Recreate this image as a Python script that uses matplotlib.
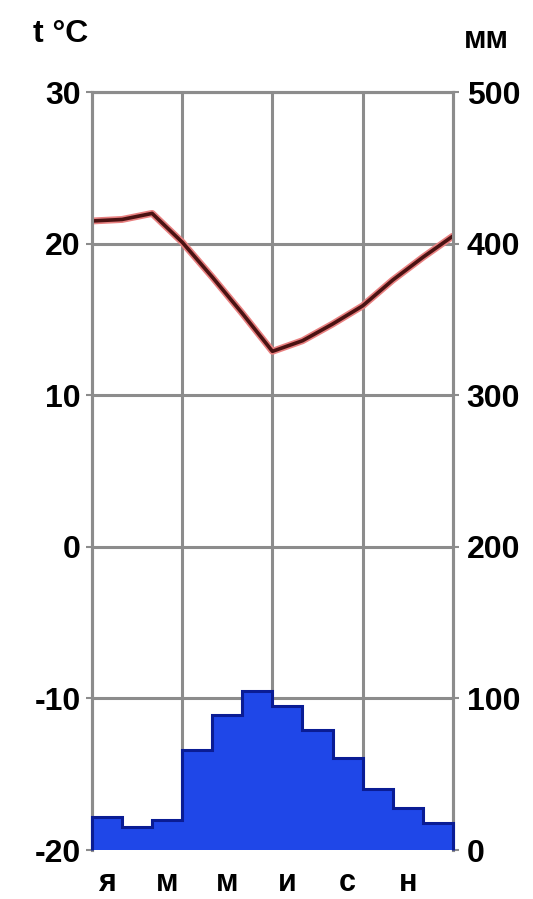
import numpy as np
import matplotlib
matplotlib.use('Agg')
import matplotlib.pyplot as plt

plt.rcParams['font.family'] = ['Liberation Sans', 'DejaVu Sans']

# осадки по месяцам, мм
precip = [22, 15, 20, 66, 89, 105, 95, 79, 61, 40, 28, 18]
# температура на границах месяцев, °C
temp = [21.5, 21.6, 22.0, 20.1, 17.8, 15.4, 12.9, 13.6, 14.7, 15.9, 17.6, 19.1, 20.5]
month_labels = ['я', 'м', 'м', 'и', 'с', 'н']
t_ticks = [-20, -10, 0, 10, 20, 30]
p_ticks = [0, 100, 200, 300, 400, 500]

fig = plt.figure(figsize=(5.33, 8.99), dpi=100)
ax = fig.add_axes([0.1726, 0.0545, 0.677, 0.843])
ax2 = ax.twinx()

grid_c = '#8c8c8c'

# температура и сетка (нижние оси)
xb = np.arange(13)
ax.plot(xb, temp, color='#e88080', lw=5, solid_capstyle='round', zorder=3)
ax.plot(xb, temp, color='#4a1212', lw=2.6, solid_capstyle='round', zorder=4)
ax.set_ylim(-20, 30)
ax.set_xlim(0, 12)
ax.set_yticks(t_ticks)
ax.set_yticklabels([str(v) for v in t_ticks], fontsize=23, fontweight='bold')
ax.set_xticks(np.arange(0, 12, 2) + 0.5)
ax.set_xticklabels(month_labels, fontsize=22, fontweight='bold')
ax.set_xticks([3, 6, 9], minor=True)
ax.grid(True, which='major', axis='y', color=grid_c, lw=2.2, zorder=1)
ax.grid(True, which='minor', axis='x', color=grid_c, lw=2.2, zorder=1)
ax.tick_params(axis='x', which='both', length=0, pad=13)
ax.tick_params(axis='y', length=4, width=1.5, color=grid_c, pad=4)

# столбики осадков (верхние оси, закрывают сетку)
ax2.stairs(precip, xb, fill=True, color='#1f47e8', zorder=2)
ax2.stairs(precip, xb, baseline=0, color='#0a1c94', lw=2.2, zorder=3, clip_on=False)
ax2.set_ylim(0, 500)
ax2.set_xlim(0, 12)
ax2.set_yticks(p_ticks)
ax2.set_yticklabels([str(v) for v in p_ticks], fontsize=23, fontweight='bold')
ax2.tick_params(axis='y', length=4, width=1.5, color=grid_c, pad=6)

for a in (ax, ax2):
    for s in a.spines.values():
        s.set_color(grid_c)
        s.set_linewidth(2.2)
    a.spines['bottom'].set_visible(False)

fig.text(0.062, 0.962, 't °C', fontsize=23, fontweight='bold', ha='left', va='center')
fig.text(0.955, 0.955, 'мм', fontsize=22, fontweight='bold', ha='right', va='center')

fig.savefig('out.png', dpi=100, facecolor='white')
